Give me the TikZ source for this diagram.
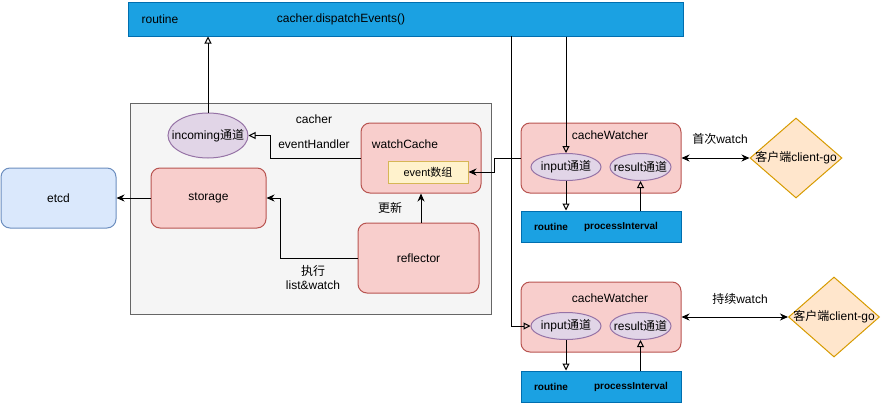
\documentclass[tikz,border=0pt]{standalone}
\usepackage{fontspec}
\setmainfont{Liberation Sans}
\newfontfamily\cjk{Noto Sans CJK SC}
\newcommand{\zh}[1]{{\cjk #1}}
\usetikzlibrary{arrows.meta,shapes.geometric}
\definecolor{barfill}{HTML}{1BA1E2}
\definecolor{barline}{HTML}{006EAF}
\definecolor{grayfill}{HTML}{F5F5F5}
\definecolor{grayline}{HTML}{666666}
\definecolor{redfill}{HTML}{F8CECC}
\definecolor{redline}{HTML}{B85450}
\definecolor{purfill}{HTML}{E1D5E7}
\definecolor{purline}{HTML}{9673A6}
\definecolor{yelfill}{HTML}{FFF2CC}
\definecolor{yelline}{HTML}{D6B656}
\definecolor{orfill}{HTML}{FFE6CC}
\definecolor{orline}{HTML}{D79B00}
\definecolor{bluefill}{HTML}{DAE8FC}
\definecolor{blueline}{HTML}{6C8EBF}
\begin{document}
\begin{tikzpicture}[x=1pt,y=-1pt,
  font=\fontsize{12}{14}\selectfont,
  line width=1pt,
  sz/.style 2 args={minimum width=#1, minimum height=#2, inner sep=0pt},
  bar/.style={draw=barline, fill=barfill, rectangle},
  redbox/.style={draw=redline, fill=redfill, rounded corners=9pt},
  purell/.style={draw=purline, fill=purfill, ellipse},
  txt/.style={inner sep=0pt, align=center},
  btxt/.style={inner sep=0pt, font=\fontsize{10}{12}\selectfont\bfseries},
  oarrow/.style={-{Triangle[open,length=7pt,width=7pt]}},
  farrow/.style={-{Stealth[length=8pt,width=7pt,inset=2.5pt]}},
  darrow/.style={{Stealth[length=8pt,width=7pt,inset=2.5pt]}-{Stealth[length=8pt,width=7pt,inset=2.5pt]}}
]
\useasboundingbox (0,0) rectangle (881,402);
% top bar
\node[bar, sz={555}{34}] (top) at (405.5,19) {};
\node[txt] (toproutine) at (160,19) {routine};
\node[txt] (topdisp) at (341,19) {cacher.dispatchEvents()};
% cacher container
\node[draw=grayline, fill=grayfill, sz={361}{211}] (cacher) at (310.5,208.5) {};
\node[txt] (cacherlbl) at (314,119) {cacher};
% etcd and storage
\node[draw=blueline, fill=bluefill, rounded corners=9pt, sz={115}{60}] (etcd) at (58.5,198) {etcd};
\node[redbox, sz={115}{60}] (storage) at (208.5,198) {storage};
% watchCache
\node[redbox, sz={120}{70}] (wc) at (421,158) {};
\node[txt] (wclbl) at (405,144) {watchCache};
\node[draw=yelline, fill=yelfill, sz={80}{22}, font=\fontsize{11}{13}\selectfont] (ev) at (428,172) {event\zh{数组}};
% reflector
\node[redbox, sz={121}{70}] (refl) at (418.5,258) {reflector};
% incoming
\node[purell, sz={80}{45}, label={center:incoming\zh{通道}}] (inc) at (208,135.5) {};
\node[txt] (ehlbl) at (314,144) {eventHandler};
% cacheWatcher 1
\node[redbox, sz={160}{70}] (cw1) at (601,158) {};
\node[txt] (cw1lbl) at (610,135) {cacheWatcher};
\node[purell, sz={70}{27}, label={center:input\zh{通道}}] (in1) at (566,167) {};
\node[purell, sz={61}{27}, label={center:result\zh{通道}}] (re1) at (640.5,167) {};
\node[bar, sz={160}{31}] (bar1) at (601,226.5) {};
\node[btxt] (b1r) at (551,227) {routine};
\node[btxt] (b1p) at (621,227) {processInterval};
\node[diamond, draw=orline, fill=orfill, sz={92}{80}, label={center:\zh{客户端}client-go}] (d1) at (796,158) {};
\node[txt] (l1) at (720,139) {\zh{首次}watch};
% cacheWatcher 2
\node[redbox, sz={160}{70}] (cw2) at (601,317) {};
\node[txt] (cw2lbl) at (610,298) {cacheWatcher};
\node[purell, sz={70}{27}, label={center:input\zh{通道}}] (in2) at (566,326) {};
\node[purell, sz={61}{27}, label={center:result\zh{通道}}] (re2) at (640.5,326) {};
\node[bar, sz={160}{31}] (bar2) at (601,386.5) {};
\node[btxt] (b2r) at (551,387) {routine};
\node[btxt] (b2p) at (631,387) {processInterval};
\node[diamond, draw=orline, fill=orfill, sz={91}{80}, label={center:\zh{客户端}client-go}] (d2) at (834,317) {};
\node[txt] (l2) at (740,299) {\zh{持续}watch};
% labels
\node[txt] (gx) at (390,208) {\zh{更新}};
\node[txt] (zx) at (313,278) {\zh{执行}\\list\&watch};
% edges
\draw[oarrow] (inc.north) -- (inc.north |- top.south);
\draw[oarrow] (wc.west) -- ++(-90,0) |- (inc.east);
\draw[farrow] (storage.west) -- (etcd.east);
\draw[farrow] (refl.west) -- ++(-77,0) |- (storage.east);
\draw[farrow] (wc.south |- refl.north) -- (wc.south);
\draw[farrow] (cw1.west) -- ++(-26,0) |- (ev.east);
\draw[oarrow] (in1.north |- top.south) -- (in1.north);
\draw[oarrow] (511,36) |- (in2.west);
\draw[oarrow] (in1.south) -- (in1.south |- bar1.north);
\draw[oarrow] (re1.south |- bar1.north) -- (re1.south);
\draw[oarrow] (in2.south) -- (in2.south |- bar2.north);
\draw[oarrow] (re2.south |- bar2.north) -- (re2.south);
\draw[darrow] (cw1.east) -- (d1.west);
\draw[darrow] (cw2.east) -- (d2.west);
\end{tikzpicture}
\end{document}
